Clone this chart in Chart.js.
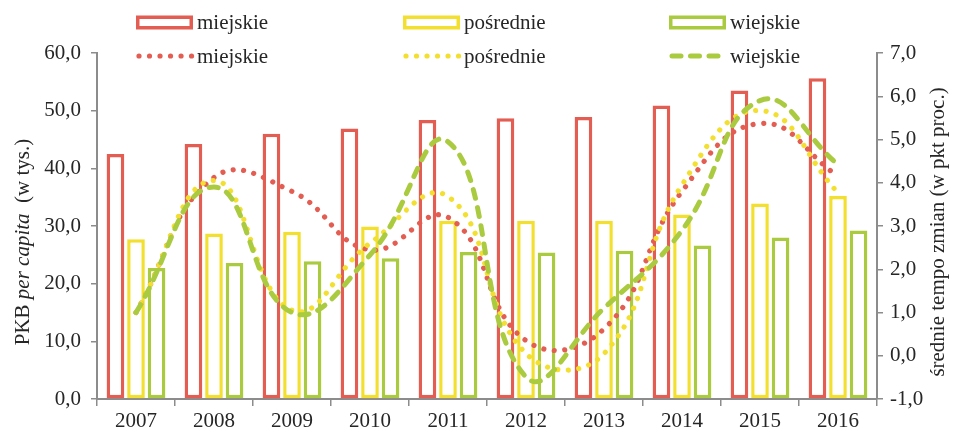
<!DOCTYPE html>
<html>
<head>
<meta charset="utf-8">
<script src="https://cdn.jsdelivr.net/npm/chart.js@4/dist/chart.umd.min.js"></script>
<style>
  html, body { margin: 0; padding: 0; background: #fff; }
  #wrap { width: 955px; height: 433px; position: relative; }
</style>
</head>
<body>
<div id="wrap"><canvas id="c" width="955" height="433"></canvas></div>
<script>
// ---- data ----
const years = ['2007','2008','2009','2010','2011','2012','2013','2014','2015','2016'];
const seriesNames = ['miejskie', 'pośrednie', 'wiejskie'];
const pkbMiejskie  = [42.5, 44.2, 46.0, 46.9, 48.4, 48.7, 48.9, 50.9, 53.5, 55.6];
const pkbPosrednie = [27.7, 28.7, 29.0, 29.9, 30.9, 30.9, 30.9, 32.0, 33.9, 35.2];
const pkbWiejskie  = [22.7, 23.6, 23.9, 24.4, 25.5, 25.4, 25.7, 26.6, 28.0, 29.2];
const tempoMiejskie  = [1.0, 4.12, 3.8, 2.45, 3.2, 0.35, 0.62, 3.8, 5.37, 4.15];
const tempoPosrednie = [1.0, 4.05, 1.05, 2.6, 3.68, 0.05, 0.05, 3.95, 5.67, 3.77];
const tempoWiejskie  = [1.0, 3.9, 1.0, 2.33, 4.95, -0.49, 1.1, 2.9, 5.9, 4.42];
const leftTitleParts = [['PKB ', 'normal'], ['per capita', 'italic'], ['  (w tys.)', 'normal']];
const rightTitle = 'średnie tempo zmian (w pkt proc.)';

// ---- styles ----
const RED = '#E35D52', YELLOW = '#F3DF2F', GREEN = '#AACB3F';
const TXT = '#262626', AXIS = '#8C8C8C';
const FONT_FAMILY = '"Liberation Serif", "Times New Roman", serif';
const FS = 21;

const fmt = v => Number(v).toFixed(1).replace('.', ',');

function barDs(label, data, color) {
  return {
    type: 'bar', label, data, yAxisID: 'y',
    backgroundColor: '#ffffff', borderColor: color, borderWidth: 3.5,
    borderSkipped: false, order: 10,
    categoryPercentage: 0.79, barPercentage: 0.86
  };
}
function lineDs(label, data, color, dash, width, order) {
  return {
    type: 'line', label, data, yAxisID: 'y2',
    borderColor: color, backgroundColor: color, borderWidth: width,
    borderDash: dash, borderCapStyle: 'round', tension: 0.45,
    pointRadius: 0, fill: false, order
  };
}

const DOT = [0.01, 10.5];
const DASH = [9, 9.5];

const datasets = [
  barDs(seriesNames[0], pkbMiejskie, RED),
  barDs(seriesNames[1], pkbPosrednie, YELLOW),
  barDs(seriesNames[2], pkbWiejskie, GREEN),
  lineDs(seriesNames[0], tempoMiejskie, RED, DOT, 5.2, 3),
  lineDs(seriesNames[1], tempoPosrednie, YELLOW, DOT, 5.2, 2),
  lineDs(seriesNames[2], tempoWiejskie, GREEN, DASH, 5, 1)
];

const customDraw = {
  id: 'customDraw',
  afterDraw(chart) {
    const ctx = chart.ctx;
    ctx.save();
    // legend
    const xs = [136, 403, 669];
    const colors = [RED, YELLOW, GREEN];
    ctx.font = FS + 'px ' + FONT_FAMILY;
    ctx.fillStyle = TXT;
    ctx.textBaseline = 'middle';
    for (let i = 0; i < 3; i++) {
      const x = xs[i];
      // bar item
      ctx.strokeStyle = colors[i];
      ctx.lineWidth = 3.5;
      ctx.setLineDash([]);
      ctx.strokeRect(x + 1.75, 17.25, 53.5, 10.5);
      ctx.fillStyle = TXT;
      ctx.fillText(seriesNames[i], x + 61, 23);
      // line item
      ctx.beginPath();
      ctx.lineCap = 'round';
      if (i < 2) { ctx.lineWidth = 5.2; ctx.setLineDash(DOT); ctx.moveTo(x + 3, 56); ctx.lineTo(x + 57, 56); }
      else { ctx.lineWidth = 5; ctx.setLineDash(DASH); ctx.moveTo(x + 3, 56); ctx.lineTo(x + 52, 56); }
      ctx.stroke();
      ctx.setLineDash([]);
      ctx.fillText(seriesNames[i], x + 61, 57);
    }
    // left axis title (mixed styles)
    ctx.save();
    ctx.translate(23, 242);
    ctx.rotate(-Math.PI / 2);
    let total = 0;
    const widths = leftTitleParts.map(([t, s]) => {
      ctx.font = s + ' ' + FS + 'px ' + FONT_FAMILY;
      const w = ctx.measureText(t).width; total += w; return w;
    });
    let cx = -total / 2;
    ctx.textAlign = 'left';
    leftTitleParts.forEach(([t, s], k) => {
      ctx.font = s + ' ' + FS + 'px ' + FONT_FAMILY;
      ctx.fillText(t, cx, 0);
      cx += widths[k];
    });
    ctx.restore();
    // right axis title
    ctx.save();
    ctx.translate(938, 232);
    ctx.rotate(-Math.PI / 2);
    ctx.font = FS + 'px ' + FONT_FAMILY;
    ctx.textAlign = 'center';
    ctx.fillText(rightTitle, 0, 0);
    ctx.restore();
    ctx.restore();
  }
};

const tickFont = { family: FONT_FAMILY, size: FS };

new Chart(document.getElementById('c'), {
  type: 'bar',
  data: { labels: years, datasets },
  options: {
    responsive: false,
    animation: false,
    devicePixelRatio: 1,
    layout: { padding: { top: 53, left: 0, right: 0, bottom: 0 } },
    plugins: { legend: { display: false }, tooltip: { enabled: false } },
    scales: {
      x: {
        offset: true,
        grid: { display: true, drawOnChartArea: false, drawTicks: true, tickLength: 7, color: AXIS, lineWidth: 1.5, offset: true },
        border: { display: true, color: AXIS, width: 2 },
        ticks: { font: tickFont, color: TXT, padding: 3, maxRotation: 0 },
        afterFit(s) { s.height = 34; }
      },
      y: {
        position: 'left', min: 0, max: 60,
        grid: { display: true, drawOnChartArea: false, drawTicks: true, tickLength: 6, color: AXIS, lineWidth: 1.5 },
        border: { display: true, color: AXIS, width: 2 },
        ticks: { stepSize: 10, font: tickFont, color: TXT, padding: 10, callback: v => fmt(v) },
        afterFit(s) { s.width = 97; }
      },
      y2: {
        position: 'right', min: -1, max: 7,
        grid: { display: true, drawOnChartArea: false, drawTicks: true, tickLength: 6, color: AXIS, lineWidth: 1.5 },
        border: { display: true, color: AXIS, width: 2 },
        ticks: { stepSize: 1, font: tickFont, color: TXT, padding: 7, callback: v => fmt(v) },
        afterFit(s) { s.width = 78; }
      }
    }
  },
  plugins: [customDraw]
});
</script>
</body>
</html>
